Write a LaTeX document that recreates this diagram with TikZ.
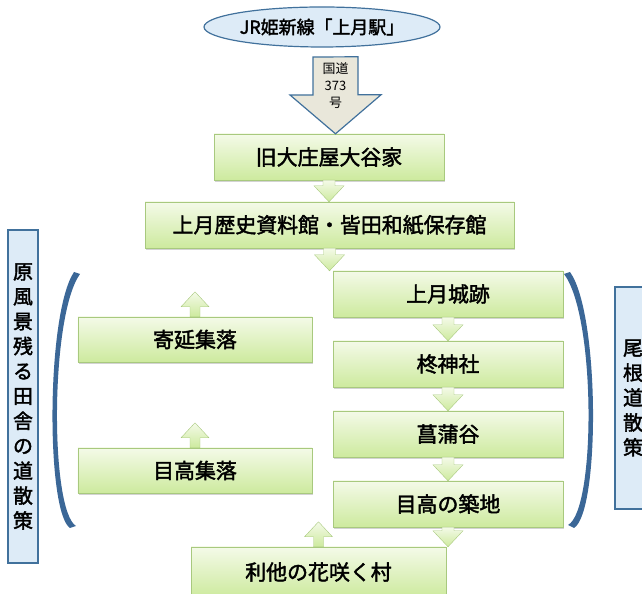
\documentclass[tikz,border=0pt]{standalone}
\usepackage{fontspec}
\setmainfont{Noto Sans CJK JP}[AutoFakeBold=2]
\usetikzlibrary{shapes.geometric,shadows,calc}

\definecolor{boxline}{HTML}{A8C97E}
\definecolor{boxtop}{HTML}{F4FAE8}
\definecolor{boxbot}{HTML}{CDEA9E}
\definecolor{navy}{HTML}{41719C}
\definecolor{paleblue}{HTML}{DDEBF7}
\definecolor{roadgray}{HTML}{E9E7DA}
\definecolor{brace}{HTML}{3B6797}

\tikzset{
  spot/.style={draw=boxline, top color=boxtop, bottom color=boxbot, minimum height=46bp, inner sep=0pt,
    font=\fontsize{21}{24}\selectfont\bfseries, drop shadow={shadow xshift=1bp, shadow yshift=-2bp, opacity=.35}},
  route/.style={draw=boxline, top color=boxtop, bottom color=boxbot},
  road/.style={draw=navy, fill=roadgray, line width=1.2bp},
  walk/.style={draw=navy, fill=paleblue, line width=1.2bp, inner sep=0pt, align=center,
    font=\fontsize{20}{25}\selectfont\bfseries},
  curl/.style={fill=brace},
}

% green block arrows, shaft at the first point, tip at the second
\newcommand{\downarr}[2]{%
  \path[route] let \p1=#1, \p2=#2 in
    (\x1-6bp,\y1) -- (\x1-6bp,\y2+16bp) -- (\x1-15bp,\y2+16bp) -- (\x1,\y2)
    -- (\x1+15bp,\y2+16bp) -- (\x1+6bp,\y2+16bp) -- (\x1+6bp,\y1) -- cycle;}
\newcommand{\uparr}[2]{%
  \path[route] let \p1=#1, \p2=#2 in
    (\x1-5bp,\y1) -- (\x1-5bp,\y2-15bp) -- (\x1-14bp,\y2-15bp) -- (\x1,\y2)
    -- (\x1+14bp,\y2-15bp) -- (\x1+5bp,\y2-15bp) -- (\x1+5bp,\y1) -- cycle;}

\begin{document}
\begin{tikzpicture}[x=1bp,y=1bp]
  \useasboundingbox (0,0) rectangle (642,594);
  \clip (0,0) rectangle (642,594);

  % station and road
  \node[ellipse, draw=navy, fill=paleblue, line width=1.2bp, minimum width=236bp, minimum height=40bp,
    inner sep=0pt, font=\fontsize{18}{20}\selectfont\bfseries] (station) at (322,567) {JR姫新線「上月駅」};

  % main route
  \node[spot, minimum width=230bp] (oya) at (329,437) {旧大庄屋大谷家};
  \node[spot, minimum width=369bp] (hist) at (329.5,369) {上月歴史資料館・皆田和紙保存館};
  \node[spot, minimum width=230bp] (castle) at (448,300) {上月城跡};
  \node[spot, minimum width=230bp] (shrine) at (448,230) {柊神社};
  \node[spot, minimum width=230bp] (shobu) at (448,160) {菖蒲谷};
  \node[spot, minimum width=230bp] (tsuiji) at (448,90) {目高の築地};
  \node[spot, minimum width=255bp, minimum height=50bp] (rita) at (318.5,22) {利他の花咲く村};

  % villages
  \node[spot, minimum width=234bp, minimum height=45bp] (yori) at (195,254.5) {寄延集落};
  \node[spot, minimum width=234bp, minimum height=45bp] (medv) at (195,123.5) {目高集落};

  \coordinate (rd) at (335.5,537);
  \path[road] (rd) ++(-22.5,0) -- ++(0,-38) -- ++(-23,0) -- (rd |- oya.north)
    -- ++(45.5,39) -- ++(-23,0) -- ++(0,38) -- cycle;
  \node[font=\fontsize{13}{17}\selectfont, align=center] (num) at (335.5,508) {国道\\373\\号};

  \downarr{(oya.south)}{(hist.north)}
  \downarr{(hist.south)}{(hist.south |- castle.north)}
  \downarr{(castle.south)}{(shrine.north)}
  \downarr{(shrine.south)}{(shobu.north)}
  \downarr{(shobu.south)}{(tsuiji.north)}
  \downarr{(tsuiji.south)}{(tsuiji.south |- rita.north)}

  \coordinate (yoritip) at ($(yori.north)+(0,25)$);
  \coordinate (medvtip) at ($(medv.north)+(0,25)$);
  \coordinate (ritatip) at ($(rita.north)+(0,25)$);
  \uparr{(yori.north)}{(yoritip)}
  \uparr{(medv.north)}{(medvtip)}
  \uparr{(rita.north)}{(ritatip)}

  % walking courses
  \node[walk, minimum width=30bp, minimum height=333bp] (leftwalk) at (23,197.5)
    {原\\風\\景\\残\\る\\田\\舎\\の\\道\\散\\策};
  \node[walk, minimum width=36bp, minimum height=222bp] (rightwalk) at (633,196)
    {尾\\根\\道\\散\\策};

  \path[curl] (74,322) .. controls (46,280) and (46,82) .. (70,66)
    -- (76,68) .. controls (50,84) and (50,278) .. (80,320) -- cycle;
  \path[curl] (570,322) .. controls (600,280) and (600,82) .. (574,66)
    -- (568,69) .. controls (596,84) and (596,278) .. (564,320) -- cycle;
\end{tikzpicture}
\end{document}
